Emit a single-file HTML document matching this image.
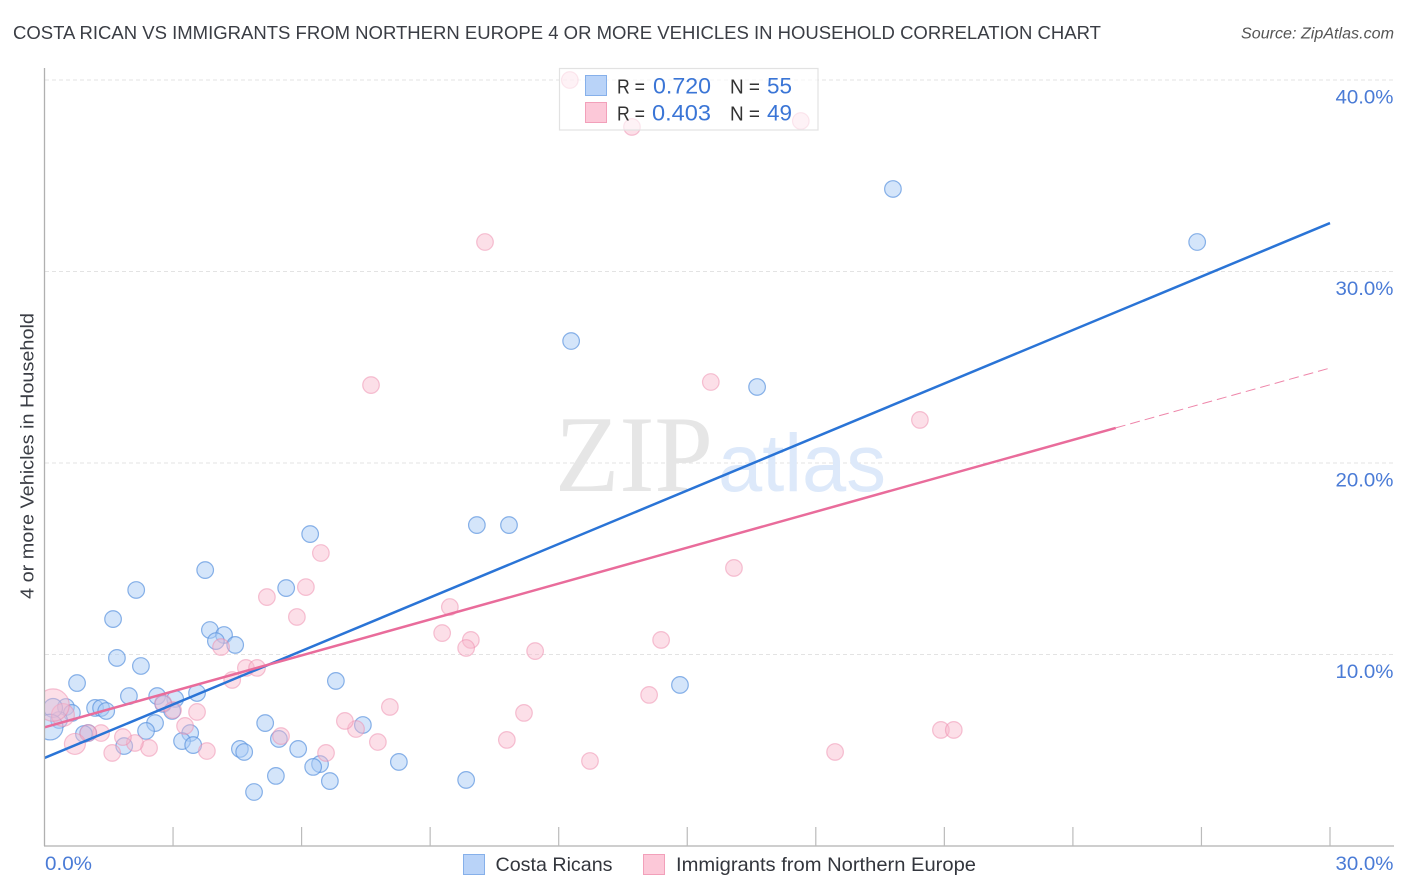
<!DOCTYPE html>
<html lang="en">
<head>
<meta charset="utf-8">
<title>Costa Rican vs Immigrants from Northern Europe Correlation Chart</title>
<style>
html,body{margin:0;padding:0;background:#fff;width:1406px;height:892px;overflow:hidden}
svg{display:block;font-family:"Liberation Sans",sans-serif}
</style>
</head>
<body>
<svg id="chart" width="1406" height="892" viewBox="0 0 1406 892" xmlns="http://www.w3.org/2000/svg">
  <defs><clipPath id="plot-clip"><rect x="45" y="60" width="1349" height="786"/></clipPath></defs>
  <rect x="0" y="0" width="1406" height="892" fill="#fff"/>
  <text x="13" y="39" font-size="18.5" fill="#3a3d44" textLength="1088" lengthAdjust="spacingAndGlyphs">COSTA RICAN VS IMMIGRANTS FROM NORTHERN EUROPE 4 OR MORE VEHICLES IN HOUSEHOLD CORRELATION CHART</text>
  <text x="1241" y="38.5" font-size="15.5" font-style="italic" fill="#555" textLength="153" lengthAdjust="spacingAndGlyphs">Source: ZipAtlas.com</text>
  <g id="grid"></g>
  <g>
    <text x="555" y="491" font-family="'Liberation Serif',serif" font-size="109" fill="#e6e6e6" textLength="158" lengthAdjust="spacingAndGlyphs">ZIP</text>
    <text x="718" y="491" font-size="82" fill="#dde9fa" textLength="168" lengthAdjust="spacingAndGlyphs">atlas</text>
  </g>
  <g id="points" clip-path="url(#plot-clip)"></g>
  <g id="trends"></g>
  <g id="axes"></g>
  <text transform="translate(33.5,456) rotate(-90)" text-anchor="middle" font-size="18.5" fill="#3a3d44" textLength="286" lengthAdjust="spacingAndGlyphs">4 or more Vehicles in Household</text>
  <g>
    <rect x="559.5" y="68.5" width="258.5" height="61.5" fill="#fff" fill-opacity="0.6" stroke="#e2e2e2" stroke-width="1.2"/>
    <rect x="585.5" y="75.5" width="21" height="20" fill="#b9d3f8" stroke="#86b0ea" stroke-width="1"/>
    <rect x="585.5" y="102.5" width="21" height="20" fill="#fcc8d8" stroke="#f2a0ba" stroke-width="1"/>
    <text x="617" y="93.5" font-size="20" fill="#333" textLength="28" lengthAdjust="spacingAndGlyphs">R =</text>
    <text x="653" y="93.5" font-size="22" fill="#3a75d6" textLength="58" lengthAdjust="spacingAndGlyphs">0.720</text>
    <text x="730" y="93.5" font-size="20" fill="#333" textLength="30" lengthAdjust="spacingAndGlyphs">N =</text>
    <text x="767" y="93.5" font-size="22" fill="#3a75d6" textLength="25" lengthAdjust="spacingAndGlyphs">55</text>
    <text x="617" y="120.5" font-size="20" fill="#333" textLength="28" lengthAdjust="spacingAndGlyphs">R =</text>
    <text x="652" y="120.5" font-size="22" fill="#3a75d6" textLength="59" lengthAdjust="spacingAndGlyphs">0.403</text>
    <text x="730" y="120.5" font-size="20" fill="#333" textLength="30" lengthAdjust="spacingAndGlyphs">N =</text>
    <text x="767" y="120.5" font-size="22" fill="#3a75d6" textLength="25" lengthAdjust="spacingAndGlyphs">49</text>
  </g>
  <g>
    <rect x="463.5" y="854.5" width="21" height="20" fill="#b9d3f8" stroke="#86b0ea" stroke-width="1"/>
    <text x="495.5" y="871" font-size="19.5" fill="#33363d" textLength="117" lengthAdjust="spacingAndGlyphs">Costa Ricans</text>
    <rect x="643.5" y="854.5" width="21" height="20" fill="#fcc8d8" stroke="#f2a0ba" stroke-width="1"/>
    <text x="676" y="871" font-size="19.5" fill="#33363d" textLength="300" lengthAdjust="spacingAndGlyphs">Immigrants from Northern Europe</text>
  </g>
</svg>
<script>
const yTickValues = [10, 20, 30, 40];
const yTickLabels = ["10.0%", "20.0%", "30.0%", "40.0%"];
const xTickValues = [3, 6, 9, 12, 15, 18, 21, 24, 27, 30];
const xEndLabels = ["0.0%", "30.0%"];

const blueX = [19.80,26.90,12.29,16.63,10.09,10.84,6.20,3.75,2.14,5.64,1.60,3.86,4.19,4.00,4.45,1.69,2.25,0.76,6.80,14.83,1.97,2.63,3.56,3.05,1.18,1.32,1.44,2.77,2.98,2.58,2.37,5.15,7.43,3.40,3.21,3.47,1.02,0.92,5.47,4.56,4.66,5.92,8.27,6.43,6.27,5.40,6.66,9.84,4.89,1.86,0.50,0.64,0.34,0.20,0.13];
const blueY = [34.31,31.54,26.37,23.97,16.76,16.76,16.29,14.41,13.37,13.47,11.85,11.28,11.02,10.70,10.50,9.82,9.40,8.51,8.62,8.41,7.83,7.83,7.99,7.68,7.21,7.21,7.05,7.42,7.05,6.42,6.01,6.42,6.32,5.90,5.48,5.27,5.90,5.85,5.59,5.07,4.91,5.07,4.39,4.28,4.13,3.66,3.39,3.45,2.82,5.22,7.26,6.95,6.58,7.21,6.21];
const blueWeight = [1,1,1,1,1,1,1,1,1,1,1,1,1,1,1,1,1,1,1,1,1,1,1,1,1,1,1,1,1,1,1,1,1,1,1,1,1,1,1,1,1,1,1,1,1,1,1,1,1,1,1,1,1,1.3,2.4];

const pinkX = [12.26,13.71,17.65,10.28,7.62,15.55,20.43,6.45,6.10,5.19,5.89,16.09,9.46,9.28,9.95,9.84,11.45,14.39,14.11,4.12,4.38,4.70,4.96,8.06,11.19,10.79,7.78,7.27,7.01,12.73,18.45,20.92,21.22,5.52,6.57,3.56,3.00,2.77,3.28,3.79,2.44,2.11,1.83,1.58,1.32,1.02,0.71,0.43,0.20];
const pinkY = [40.00,37.55,37.86,31.54,24.07,24.23,22.25,15.30,13.52,13.00,11.96,14.52,12.48,11.12,10.76,10.34,10.18,10.76,7.89,10.39,8.67,9.30,9.30,7.26,6.95,5.54,5.43,6.11,6.53,4.44,4.91,6.06,6.06,5.74,4.86,7.00,7.10,7.47,6.27,4.96,5.12,5.38,5.69,4.86,5.90,5.90,5.33,6.84,7.36];
const pinkWeight = [1,1,1,1,1,1,1,1,1,1,1,1,1,1,1,1,1,1,1,1,1,1,1,1,1,1,1,1,1,1,1,1,1,1,1,1,1,1,1,1,1,1,1,1,1,1,1.6,1.9,3.8];

const blueTrendEnds = [4.6, 32.53];
const pinkTrendEnds = [6.2, 24.96];
const pinkSolidEndX = 25;
const trendDomainX = [0, 30];

const SVGNS = "http://www.w3.org/2000/svg";
const xScale = v => 44.5 + v * (1330 - 44.5) / 30;
const yScale = v => 846 - v * 19.15;
const rScale = w => 8.3 * Math.sqrt(w);
const trendAt = (ends, x) => ends[0] + (ends[1] - ends[0]) * (x - trendDomainX[0]) / (trendDomainX[1] - trendDomainX[0]);

function make(tag, attrs, parent) {
  const el = document.createElementNS(SVGNS, tag);
  for (const k in attrs) el.setAttribute(k, attrs[k]);
  parent.appendChild(el);
  return el;
}

const grid = document.getElementById("grid");
const axes = document.getElementById("axes");
const points = document.getElementById("points");
const trends = document.getElementById("trends");

yTickValues.forEach((v, i) => {
  const line = make("line", {x1: 45, x2: 1394, y1: yScale(v), y2: yScale(v), stroke: "#e3e3e3", "stroke-width": 1, "stroke-dasharray": "4 3"}, grid);
  
  
  const label = make("text", {x: 1393.5, y: yScale(v) + 23.5, "text-anchor": "end", "font-size": 19.5, fill: "#4a7bd6", textLength: 58, lengthAdjust: "spacingAndGlyphs"}, axes);
  label.textContent = yTickLabels[i];
  
  
});

const yAxis = make("line", {x1: 44.5, x2: 44.5, y1: 68, y2: 846, stroke: "#b0b0b0", "stroke-width": 1.3}, axes);


const xAxis = make("line", {x1: 44, x2: 1394, y1: 846, y2: 846, stroke: "#b0b0b0", "stroke-width": 1.3}, axes);



xTickValues.forEach(v => {
  const tick = make("line", {x1: xScale(v), x2: xScale(v), y1: 827, y2: 846, stroke: "#bbbbbb", "stroke-width": 1.2}, axes);
  
  
});

const xLabelLeft = make("text", {x: 45, y: 870, "font-size": 19.5, fill: "#4a7bd6", textLength: 47, lengthAdjust: "spacingAndGlyphs"}, axes);
xLabelLeft.textContent = xEndLabels[0];


const xLabelRight = make("text", {x: 1393.5, y: 870, "text-anchor": "end", "font-size": 19.5, fill: "#4a7bd6", textLength: 58, lengthAdjust: "spacingAndGlyphs"}, axes);
xLabelRight.textContent = xEndLabels[1];



blueX.forEach((x, i) => {
  const c = make("circle", {cx: xScale(x), cy: yScale(blueY[i]), r: rScale(blueWeight[i]), fill: "#a9cbf6", "fill-opacity": 0.5, stroke: "#5a93de", "stroke-opacity": 0.7, "stroke-width": 1.2}, points);
  
  
});

pinkX.forEach((x, i) => {
  const c = make("circle", {cx: xScale(x), cy: yScale(pinkY[i]), r: rScale(pinkWeight[i]), fill: "#f9b9cc", "fill-opacity": 0.45, stroke: "#ee8aab", "stroke-opacity": 0.5, "stroke-width": 1.2}, points);
  
  
});

const blueLine = make("line", {x1: xScale(trendDomainX[0]), y1: yScale(blueTrendEnds[0]), x2: xScale(trendDomainX[1]), y2: yScale(blueTrendEnds[1]), stroke: "#2a74d6", "stroke-width": 2.5}, trends);


const pinkLine = make("line", {x1: xScale(trendDomainX[0]), y1: yScale(pinkTrendEnds[0]), x2: xScale(pinkSolidEndX), y2: yScale(trendAt(pinkTrendEnds, pinkSolidEndX)), stroke: "#e96c9b", "stroke-width": 2.5}, trends);


const pinkDash = make("line", {x1: xScale(pinkSolidEndX), y1: yScale(trendAt(pinkTrendEnds, pinkSolidEndX)), x2: xScale(trendDomainX[1]), y2: yScale(pinkTrendEnds[1]), stroke: "#ee86aa", "stroke-width": 1, "stroke-dasharray": "10 5"}, trends);


</script>
</body>
</html>
